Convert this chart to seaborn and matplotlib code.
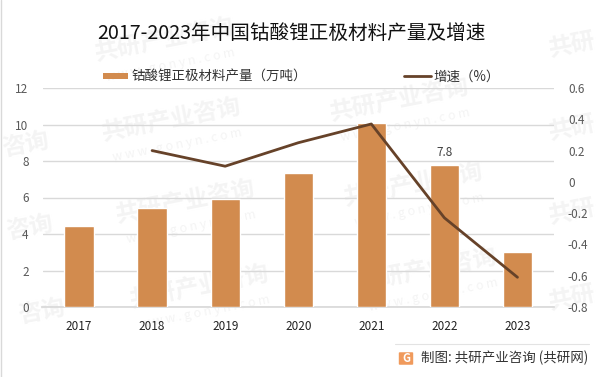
import matplotlib
matplotlib.use('Agg')
import matplotlib.pyplot as plt
import pandas as pd
import seaborn as sns
from matplotlib.patches import FancyBboxPatch, Rectangle
from matplotlib.lines import Line2D

years = ['2017', '2018', '2019', '2020', '2021', '2022', '2023']
output = [4.45, 5.4, 5.9, 7.35, 10.1, 7.8, 3.0]
growth = [None, 0.2, 0.1, 0.25, 0.37, -0.23, -0.61]
left_ticks = [0, 2, 4, 6, 8, 10, 12]
right_ticks = [-0.8, -0.6, -0.4, -0.2, 0, 0.2, 0.4, 0.6]
right_labels = ['-0.8', '-0.6', '-0.4', '-0.2', '0', '0.2', '0.4', '0.6']

W, H = 604, 377
BAR = '#D28B4E'
LINE = '#664229'
GRID = '#D9D9D9'
TICK = '#595959'
MARK = '#F4F4F4'

sns.set_theme(style='white')
plt.rcParams['font.family'] = ['Noto Sans CJK SC', 'DejaVu Sans']

df = pd.DataFrame({'year': years, 'output': output, 'growth': growth})

fig = plt.figure(figsize=(W / 100, H / 100), dpi=100, facecolor='white')
ax = fig.add_axes([42.5 / W, 1 - 307 / H, (554 - 42.5) / W, (307 - 88) / H])
ax.set_zorder(2)
ax.patch.set_alpha(0)

# faint watermark behind everything
for x, y in [(165, 40), (172, 120), (186, 202), (200, 287), (400, 100), (414, 185), (428, 270)]:
    fig.text(x / W, 1 - y / H, '共研产业咨询', fontsize=17, fontweight='bold', color=MARK,
             rotation=11, ha='center', va='center', zorder=0)
    fig.text((x + 5) / W, 1 - (y + 25) / H, 'w w w . g o n y n . c o m', fontsize=9, color=MARK,
             rotation=11, ha='center', va='center', zorder=0)
for x, y, s in [(26, 145, '咨询'), (30, 228, '咨询'), (42, 312, '咨询'), (572, 45, '共研'), (572, 128, '共研'), (572, 212, '共研'), (572, 298, '共研')]:
    fig.text(x / W, 1 - y / H, s, fontsize=17, fontweight='bold', color=MARK,
             rotation=11, ha='center', va='center', zorder=0)

sns.barplot(data=df, x='year', y='output', color=BAR, width=0.4, saturation=1, ax=ax, zorder=3)
ax.set_ylim(0, 12)
ax.set_xlim(-0.5, 6.5)
ax.set_yticks(left_ticks)
ax.set_xlabel('')
ax.set_ylabel('')
ax.grid(axis='y', color=GRID, lw=1)
ax.set_axisbelow(True)
sns.despine(ax=ax, left=True, right=True, top=True, bottom=False)
ax.spines['bottom'].set_color(GRID)
ax.tick_params(axis='y', length=0, labelsize=8.5, labelcolor=TICK, pad=10)
ax.tick_params(axis='x', length=0, labelsize=8.5, labelcolor='#222222', pad=9)
ax.text(5, 7.8 + 0.3, '7.8', ha='center', va='bottom', fontsize=8.5, color='#404040', zorder=5)

ax2 = ax.twinx()
ax2.set_zorder(3)
sns.lineplot(data=df, x='year', y='growth', color=LINE, lw=2.0, ax=ax2, sort=False)
ax2.set_ylim(-0.8, 0.6)
ax2.set_yticks(right_ticks, right_labels)
ax2.set_ylabel('')
ax2.grid(False)
sns.despine(ax=ax2, left=True, right=True, top=True, bottom=True)
ax2.tick_params(axis='y', length=0, labelsize=8.5, labelcolor=TICK, pad=10)

fig.text(291.5 / W, 1 - 33 / H, '2017-2023年中国钴酸锂正极材料产量及增速', fontsize=14.1, color='#111111',
         ha='center', va='center')

# legend
fig.add_artist(Rectangle((103 / W, 1 - 79 / H), 25 / W, 6 / H, transform=fig.transFigure, color=BAR, lw=0))
fig.text(131 / W, 1 - 76.5 / H, '钴酸锂正极材料产量（万吨）', fontsize=9.7, color='#333333', ha='left', va='center')
fig.add_artist(Line2D([404 / W, 431 / W], [1 - 76 / H] * 2, color=LINE, lw=2.0))
fig.text(433 / W, 1 - 76.5 / H, '增速（%）', fontsize=9.7, color='#333333', ha='left', va='center')

# footer
fig.add_artist(Line2D([395 / W, 589 / W], [1 - 343.5 / H] * 2, color='#E3E3E3', lw=0.8))
fig.add_artist(FancyBboxPatch((400 / W, 1 - 364 / H), 12 / W, 11 / H, transform=fig.transFigure,
                              boxstyle='round,pad=0.002', color='#F09A5C', lw=0))
fig.text(406 / W, 1 - 358.5 / H, 'G', fontsize=8, fontweight='bold', color='white', ha='center', va='center')
fig.text(421 / W, 1 - 358 / H, '制图: 共研产业咨询 (共研网)', fontsize=9.7, color='#333333', ha='left', va='center')

# left page edge
fig.add_artist(Line2D([0.5 / W, 0.5 / W], [0, 1], color='#D9D9D9', lw=1))

fig.savefig('out.png', dpi=100)
